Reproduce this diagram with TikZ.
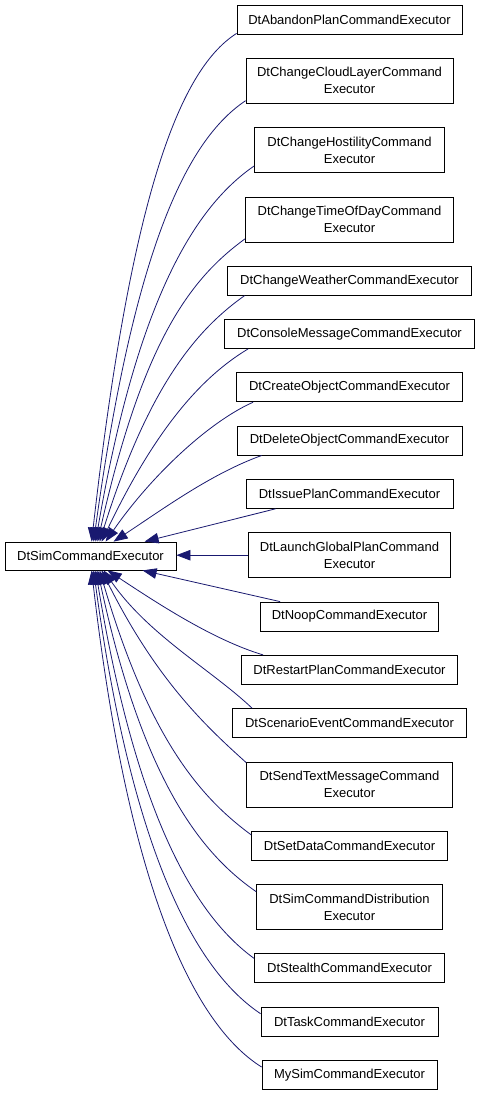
\documentclass[tikz,border=0pt]{standalone}
\usepackage{fontspec}
\setmainfont{Liberation Sans}
\usetikzlibrary{arrows.meta}
\definecolor{edgeblue}{HTML}{191970}
\begin{document}
\begin{tikzpicture}[x=1pt,y=-1pt,
  cls/.style={draw=black, line width=0.8pt, fill=white, inner sep=0pt, align=center,
    font=\fontsize{13}{17}\selectfont, minimum height=29pt},
  two/.style={minimum height=45pt},
  inh/.style={draw=edgeblue, line width=0.8pt, -{Triangle[length=14pt,width=10.5pt]}}]
\fill[white] (0,0) rectangle (480,1096);
\useasboundingbox (0,0) rectangle (480,1096);

\node[cls, minimum width=171pt, minimum height=28pt] (base) at (90.5,556) {DtSimCommandExecutor};

\node[cls, minimum width=225pt] (n1) at (349.5,19.5) {DtAbandonPlanCommandExecutor};
\node[cls, two, minimum width=207pt] (n2) at (349.5,80.8) {DtChangeCloudLayerCommand\\Executor};
\node[cls, two, minimum width=190pt] (n3) at (349.5,150.1) {DtChangeHostilityCommand\\Executor};
\node[cls, two, minimum width=208pt] (n4) at (349.5,219.4) {DtChangeTimeOfDayCommand\\Executor};
\node[cls, minimum width=244pt] (n5) at (349.5,280.7) {DtChangeWeatherCommandExecutor};
\node[cls, minimum width=250pt] (n6) at (349.5,334) {DtConsoleMessageCommandExecutor};
\node[cls, minimum width=226pt] (n7) at (349.5,387.3) {DtCreateObjectCommandExecutor};
\node[cls, minimum width=225pt] (n8) at (349.5,440.6) {DtDeleteObjectCommandExecutor};
\node[cls, minimum width=207pt] (n9) at (349.5,493.9) {DtIssuePlanCommandExecutor};
\node[cls, two, minimum width=202pt] (n10) at (349.5,555.2) {DtLaunchGlobalPlanCommand\\Executor};
\node[cls, minimum width=178pt] (n11) at (349.5,616.5) {DtNoopCommandExecutor};
\node[cls, minimum width=216pt] (n12) at (349.5,669.8) {DtRestartPlanCommandExecutor};
\node[cls, minimum width=234pt] (n13) at (349.5,723.1) {DtScenarioEventCommandExecutor};
\node[cls, two, minimum width=206pt] (n14) at (349.5,784.4) {DtSendTextMessageCommand\\Executor};
\node[cls, minimum width=196pt] (n15) at (349.5,845.7) {DtSetDataCommandExecutor};
\node[cls, two, minimum width=186pt] (n16) at (349.5,907) {DtSimCommandDistribution\\Executor};
\node[cls, minimum width=190pt] (n17) at (349.5,968.3) {DtStealthCommandExecutor};
\node[cls, minimum width=177pt] (n18) at (349.5,1021.6) {DtTaskCommandExecutor};
\node[cls, minimum width=175pt] (n19) at (349.5,1074.9) {MySimCommandExecutor};

% upper edges
\draw[inh] ([yshift=1pt]n1.south west) .. controls +(-60,38) and +(38,-335) .. ([xshift=87pt]base.north west);
\draw[inh] ([yshift=3pt]n2.south west) .. controls +(-60,40) and +(40,-290) .. ([xshift=89pt]base.north west);
\draw[inh] ([yshift=7pt]n3.south west) .. controls +(-58,40) and +(42,-245) .. ([xshift=91pt]base.north west);
\draw[inh] ([yshift=3.5pt]n4.south west) .. controls +(-55,40) and +(45,-200) .. ([xshift=93pt]base.north west);
\draw[inh] ([xshift=17.5pt]n5.south west) .. controls +(-45,32) and +(50,-160) .. ([xshift=95pt]base.north west);
\draw[inh] ([xshift=24pt]n6.south west) .. controls +(-45,27) and +(55,-115) .. ([xshift=97pt]base.north west);
\draw[inh] ([xshift=17pt]n7.south west) .. controls +(-45,20) and +(45,-65) .. ([xshift=101pt]base.north west);
\draw[inh] ([xshift=25pt]n8.south west) .. controls +(-50,18) and +(50,-33) .. ([xshift=109pt]base.north west);
\draw[inh] ([xshift=30pt]n9.south west) -- ([xshift=140pt]base.north west);
% middle
\draw[inh] (n10.west) -- (n10.west -| base.east);
% lower edges
\draw[inh] ([xshift=20pt]n11.north west) -- ([xshift=138pt]base.south west);
\draw[inh] ([xshift=22pt]n12.north west) .. controls +(-50,-15) and +(50,33) .. ([xshift=103pt]base.south west);
\draw[inh] ([xshift=20pt]n13.north west) .. controls +(-40,-38) and +(45,65) .. ([xshift=99pt]base.south west);
\draw[inh] ([yshift=-1pt]n14.north west) .. controls +(-40,-36) and +(55,110) .. ([xshift=97pt]base.south west);
\draw[inh] ([yshift=-4pt]n15.north west) .. controls +(-50,-37) and +(50,170) .. ([xshift=95pt]base.south west);
\draw[inh] ([yshift=-7.5pt]n16.north west) .. controls +(-55,-38) and +(45,210) .. ([xshift=93pt]base.south west);
\draw[inh] ([yshift=-5pt]n17.north west) .. controls +(-55,-40) and +(42,255) .. ([xshift=91pt]base.south west);
\draw[inh] ([yshift=-7pt]n18.north west) .. controls +(-60,-40) and +(40,295) .. ([xshift=89pt]base.south west);
\draw[inh] ([yshift=-7pt]n19.north west) .. controls +(-64,-40) and +(38,330) .. ([xshift=87pt]base.south west);
\end{tikzpicture}
\end{document}
